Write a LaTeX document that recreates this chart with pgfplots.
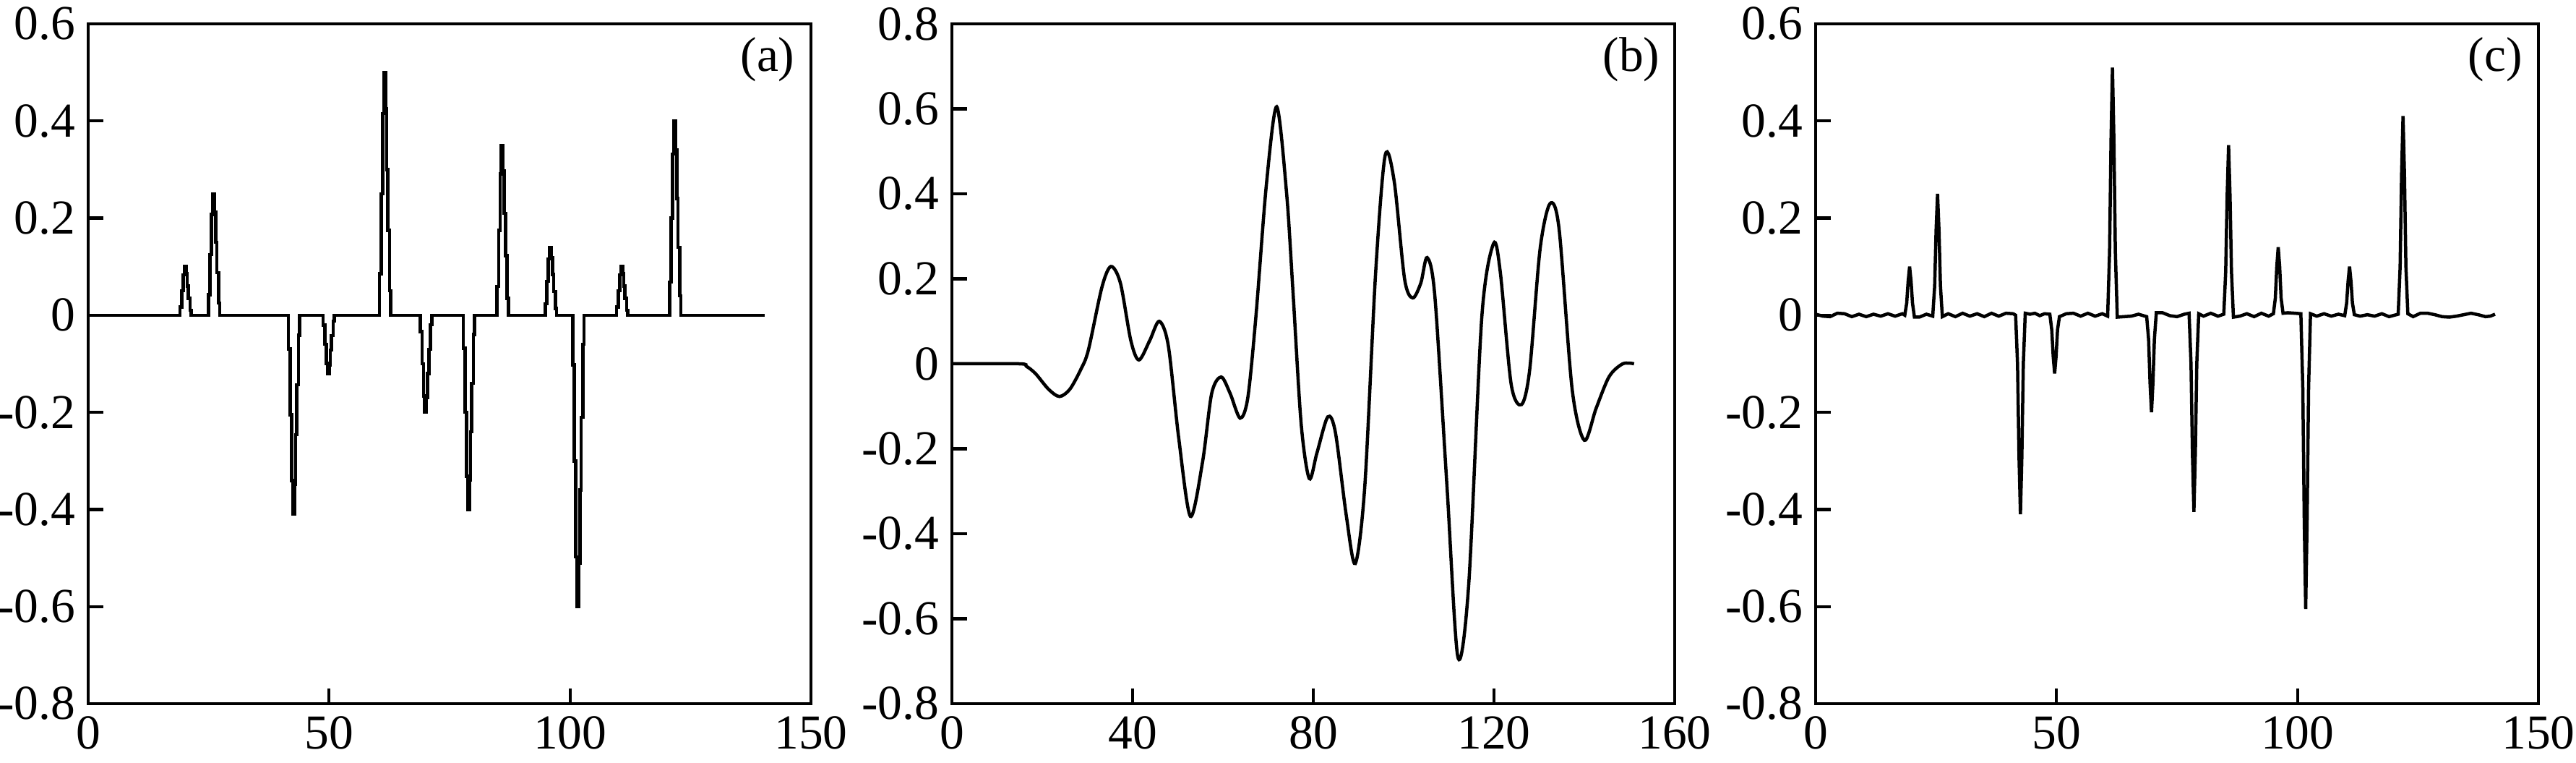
\documentclass[border=0pt]{standalone}
\usepackage{fontspec}
\setmainfont{Liberation Serif}
\usepackage{pgfplots}
\pgfplotsset{compat=1.18}

\newcommand{\lblfont}{\fontsize{13.5}{15}\selectfont}

\pgfplotsset{
  panel/.style={
    scale only axis,
    width=200pt, height=188pt,
    xmin=0, ymin=-0.8,
    axis line style={line width=0.85pt},
    major tick style={line width=0.85pt, black},
    tick align=inside,
    major tick length=4.2pt,
    xtick pos=bottom, ytick pos=left,
    tick label style={font=\lblfont},
    clip=true,
  },
  sig/.style={black, line width=0.9pt, mark=none},
}

\begin{document}
\begin{tikzpicture}
\useasboundingbox (0,0) rectangle (712.8pt,211pt);

% (a) original spike series
\begin{axis}[panel, at={(24.4pt,16.4pt)},
    xmax=150, ymax=0.6,
    xtick={0,50,100,150}, xticklabels={0,50,100,150},
    ytick={-0.8,-0.6,-0.4,-0.2,0,0.2,0.4,0.6},
    yticklabels={-0.8,-0.6,-0.4,-0.2,0,0.2,0.4,0.6}]
  \addplot[sig, const plot] coordinates {
  (0,0)
  (19.05,0.017) (19.4,0.05) (19.7,0.083) (19.95,0.1) (20.3,0.085) (20.55,0.06) (20.8,0.035) (21.15,0.01) (21.4,0)
  (24.95,0.0425) (25.3,0.125) (25.6,0.2075) (25.85,0.25) (26.2,0.2125) (26.45,0.15) (26.7,0.0875) (27.05,0.025) (27.3,0)
  (41.55,-0.0697) (41.9,-0.205) (42.2,-0.3403) (42.45,-0.41) (42.8,-0.3485) (43.05,-0.246) (43.3,-0.1435) (43.65,-0.041) (43.9,0)
  (48.75,-0.0204) (49.1,-0.06) (49.4,-0.0996) (49.65,-0.12) (50.0,-0.102) (50.25,-0.072) (50.5,-0.042) (50.85,-0.012) (51.1,0)
  (60.45,0.085) (60.8,0.25) (61.1,0.415) (61.35,0.5) (61.7,0.425) (61.95,0.3) (62.2,0.175) (62.55,0.05) (62.8,0)
  (68.95,-0.034) (69.3,-0.1) (69.6,-0.166) (69.85,-0.2) (70.2,-0.17) (70.45,-0.12) (70.7,-0.07) (71.05,-0.02) (71.3,0)
  (77.85,-0.068) (78.2,-0.2) (78.5,-0.332) (78.75,-0.4) (79.1,-0.34) (79.35,-0.24) (79.6,-0.14) (79.95,-0.04) (80.2,0)
  (84.85,0.0595) (85.2,0.175) (85.5,0.2905) (85.75,0.35) (86.1,0.2975) (86.35,0.21) (86.6,0.1225) (86.95,0.035) (87.2,0)
  (94.85,0.0238) (95.2,0.07) (95.5,0.1162) (95.75,0.14) (96.1,0.119) (96.35,0.084) (96.6,0.049) (96.95,0.014) (97.2,0)
  (100.55,-0.102) (100.9,-0.3) (101.2,-0.498) (101.45,-0.6) (101.8,-0.51) (102.05,-0.36) (102.3,-0.21) (102.65,-0.06) (102.9,0)
  (109.65,0.017) (110.0,0.05) (110.3,0.083) (110.55,0.1) (110.9,0.085) (111.15,0.06) (111.4,0.035) (111.75,0.01) (112.0,0)
  (120.65,0.068) (121.0,0.2) (121.3,0.332) (121.55,0.4) (121.9,0.34) (122.15,0.24) (122.4,0.14) (122.75,0.04) (123.0,0)
  (140.4,0)
  };
  \node[font=\lblfont] at (rel axis cs:0.94,0.948) {(a)};
\end{axis}

% (b) observed trace
\begin{axis}[panel, at={(263.4pt,16.4pt)},
    xmax=160, ymax=0.8,
    xtick={0,40,80,120,160}, xticklabels={0,40,80,120,160},
    ytick={-0.8,-0.6,-0.4,-0.2,0,0.2,0.4,0.6,0.8},
    yticklabels={-0.8,-0.6,-0.4,-0.2,0,0.2,0.4,0.6,0.8}]
  \addplot[sig, smooth, tension=0.5] coordinates {
  (0,0) (14.9,0) (16.5,-0.006) (18.5,-0.023) (21.4,-0.06) (23.8,-0.077) (26.1,-0.06)
  (28.5,-0.014) (30.2,0.032) (33.2,0.18) (35.2,0.229) (37.3,0.19) (39.6,0.055)
  (41.4,0.009) (43.8,0.055) (45.9,0.1) (47.9,0.043) (50.2,-0.174) (52.8,-0.359)
  (55.5,-0.23) (57.5,-0.07) (59.6,-0.031) (61.6,-0.07) (63.8,-0.128) (65.5,-0.08)
  (67.3,0.112) (69.6,0.42) (71.9,0.605) (74.1,0.40) (75.5,0.17) (77.3,-0.14)
  (79.1,-0.27) (80.8,-0.21) (83.2,-0.125) (84.9,-0.162) (87.3,-0.357) (89.3,-0.47)
  (91.4,-0.288) (93.8,0.215) (95.9,0.49) (97.9,0.43) (100.2,0.2) (102,0.155)
  (103.8,0.19) (105.2,0.25) (106.9,0.16) (109.6,-0.29) (112,-0.69) (114.4,-0.52)
  (117.3,0.11) (119.9,0.283) (121.4,0.215) (123.8,-0.048) (126.1,-0.096) (127.9,-0.014)
  (130.2,0.27) (132.4,0.377) (134.4,0.318) (137.3,-0.06) (140,-0.18) (142.6,-0.105)
  (145.5,-0.03) (148.5,0) (151,0)
  };
  \node[font=\lblfont] at (rel axis cs:0.94,0.948) {(b)};
\end{axis}

% (c) recovered spikes
\begin{axis}[panel, at={(502.4pt,16.4pt)},
    xmax=150, ymax=0.6,
    xtick={0,50,100,150}, xticklabels={0,50,100,150},
    ytick={-0.8,-0.6,-0.4,-0.2,0,0.2,0.4,0.6},
    yticklabels={-0.8,-0.6,-0.4,-0.2,0,0.2,0.4,0.6}]
  \addplot[sig] coordinates {
  (0,0.002) (1.5,-0.002) (3,-0.003) (4.5,0.004) (6,0.003) (7.5,-0.003) (9,0.002)
  (10.5,-0.003) (12,0.002) (13.5,-0.002) (15,0.003) (16.5,-0.002) (18,0.003) (18.5,0)
  (18.9,0.025) (19.2,0.07) (19.5,0.1) (19.8,0.07) (20.1,0.025) (20.5,-0.004)
  (21.5,-0.004) (23,0.002) (24.3,-0.002)
  (24.7,0.06) (25.0,0.175) (25.3,0.25) (25.6,0.175) (25.9,0.06) (26.3,-0.003)
  (27.5,0.003) (29,-0.003) (30.5,0.004) (32,-0.002) (33.5,0.003) (35,-0.003)
  (36.5,0.004) (38,-0.002) (39.5,0.004) (41,0.003) (41.5,0)
  (41.9,-0.1) (42.2,-0.29) (42.5,-0.41) (42.8,-0.29) (43.1,-0.1) (43.5,0.004)
  (44.5,0.002) (45.5,0.004) (46.5,-0.001) (47.5,0.003) (48.6,0.002)
  (49.0,-0.03) (49.3,-0.085) (49.6,-0.12) (49.9,-0.085) (50.2,-0.03) (50.6,-0.003)
  (52,0.003) (53.5,0.004) (55,-0.002) (56.5,0.004) (58,-0.002) (59.5,0.003) (60.6,-0.002)
  (61.0,0.13) (61.3,0.36) (61.6,0.51) (61.9,0.36) (62.2,0.13) (62.6,-0.004)
  (64,-0.003) (65.5,-0.002) (67,0.002) (68.7,-0.003)
  (69.1,-0.05) (69.4,-0.14) (69.7,-0.2) (70.0,-0.14) (70.3,-0.05) (70.7,0.005)
  (72,0.005) (73.5,-0.001) (75,-0.003) (76.5,0.002) (77.5,0.004)
  (77.9,-0.1) (78.2,-0.285) (78.5,-0.405) (78.8,-0.285) (79.1,-0.1) (79.5,0.003)
  (80.5,-0.002) (82,0.004) (83.5,-0.002) (84.7,0.002)
  (85.1,0.09) (85.4,0.245) (85.7,0.35) (86.0,0.245) (86.3,0.09) (86.7,-0.004)
  (88,-0.002) (89.5,0.003) (91,-0.003) (92.5,0.004) (94,-0.002) (95,0.003)
  (95.4,0.035) (95.7,0.1) (96.0,0.14) (96.3,0.1) (96.6,0.035) (97,0.004)
  (98,0.005) (99.5,0.004) (100.7,0.003)
  (101.1,-0.15) (101.4,-0.42) (101.7,-0.605) (102.0,-0.42) (102.3,-0.15) (102.7,0.003)
  (104,-0.002) (105.5,0.003) (107,-0.002) (108.5,0.002) (109.8,-0.001)
  (110.2,0.025) (110.5,0.07) (110.8,0.1) (111.1,0.07) (111.4,0.025) (111.8,0.001)
  (113,-0.002) (114.5,0.001) (116,-0.002) (117.5,0.003) (119,-0.003) (120.9,0.002)
  (121.3,0.1) (121.6,0.29) (121.9,0.41) (122.2,0.29) (122.5,0.1) (122.9,0.003)
  (124,-0.003) (125.5,0.004) (127,0.004) (128.5,0.001) (130,-0.003) (131.5,-0.004)
  (133,-0.002) (134.5,0.001) (136,0.004) (137.5,0.001) (139,-0.003) (140,-0.002) (141,0.002)
  };
  \node[font=\lblfont] at (rel axis cs:0.94,0.948) {(c)};
\end{axis}
\end{tikzpicture}
\end{document}
